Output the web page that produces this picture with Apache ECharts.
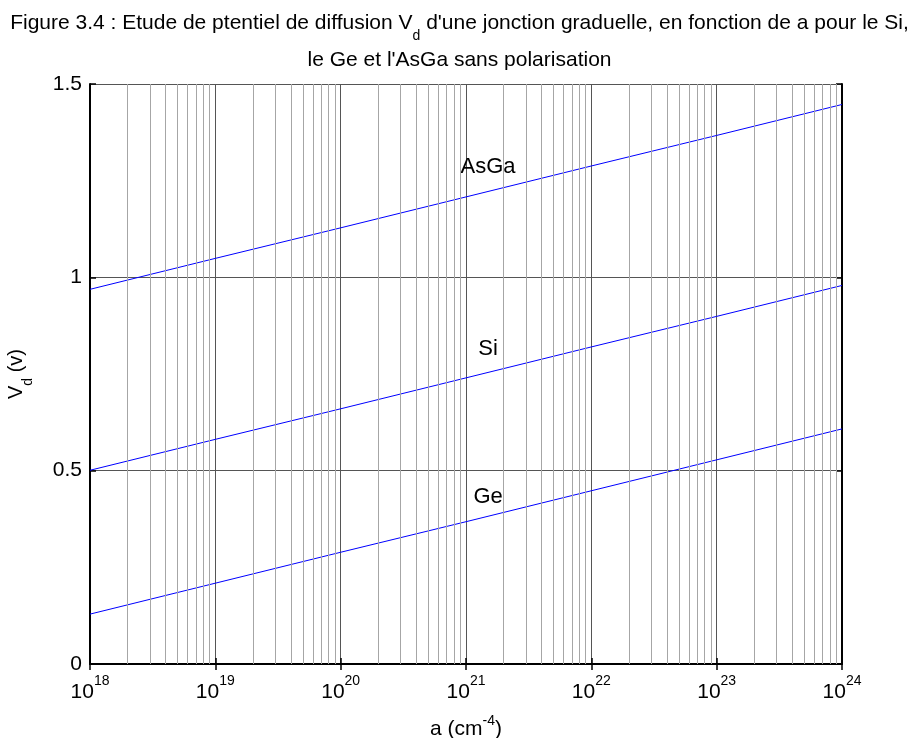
<!DOCTYPE html>
<html><head><meta charset="utf-8">
<script src="https://cdn.jsdelivr.net/npm/echarts@6/dist/echarts.min.js"></script>
<style>html,body{margin:0;padding:0;background:#fff}#c{width:919px;height:738px}</style>
</head><body><div id="c"></div>
<script>
// ---- data ----
const decades = [1e18, 1e19, 1e20, 1e21, 1e22, 1e23, 1e24];
const exponents = [18, 19, 20, 21, 22, 23, 24];
const asgaValues = [0.969, 1.049, 1.128, 1.208, 1.288, 1.367, 1.447];
const siValues   = [0.501, 0.581, 0.660, 0.740, 0.820, 0.899, 0.979];
const geValues   = [0.129, 0.209, 0.289, 0.368, 0.448, 0.528, 0.608];
const yTicks = [0, 0.5, 1, 1.5];
const yTickLabels = ['0', '0.5', '1', '1.5'];
const minorMultipliers = [2, 3, 4, 5, 6, 7, 8, 9];
const labelNames = ['AsGa', 'Si', 'Ge'];
const labelX = [1.5e21, 1.5e21, 1.5e21];
const labelY = [1.286, 0.815, 0.432];

const FONT = 'Liberation Sans, Arial, sans-serif';
const minorPositions = [];
decades.slice(0, -1).forEach(d => minorMultipliers.forEach(m => minorPositions.push(d * m)));
const expOf = {};
decades.forEach((d, i) => { expOf[Math.round(Math.log10(d))] = exponents[i]; });

function pairs(vals) { return decades.map((d, i) => [d, vals[i]]); }

const chart = echarts.init(document.getElementById('c'), null, {renderer: 'canvas'});
const lineColor = '#0000ff';
const baseX = {
  type: 'log', logBase: 10, min: decades[0], max: decades[decades.length - 1],
  gridIndex: 0
};
chart.setOption({
  animation: false,
  backgroundColor: '#fff',
  title: [
    {
      text: '{m|Figure 3.4 : Etude de ptentiel de diffusion V}{sub|d}{m| d\'une jonction graduelle, en fonction de a pour le Si,}',
      left: 'center', top: 8,
      textStyle: {
        fontFamily: FONT, fontSize: 21, fontWeight: 'normal', color: '#000',
        rich: {
          m: { fontFamily: FONT, fontSize: 21, color: '#000', verticalAlign: 'top' },
          sub: { fontFamily: FONT, fontSize: 14, padding: [16, 0, 0, 0], color: '#000', verticalAlign: 'top' }
        }
      }
    },
    {
      text: 'le Ge et l\'AsGa sans polarisation',
      left: 'center', top: 45,
      textStyle: { fontFamily: FONT, fontSize: 21, fontWeight: 'normal', color: '#000' }
    }
  ],
  grid: { left: 90, right: 77, top: 84, bottom: 74, containLabel: false, outerBoundsMode: 'none' },
  xAxis: [
    Object.assign({}, baseX, {
      position: 'bottom',
      name: '{m|a (cm}{sup|-4}{m|)}',
      nameLocation: 'middle', nameGap: 50,
      nameTextStyle: {
        fontFamily: FONT, fontSize: 21, color: '#000',
        rich: {
          m: { fontFamily: FONT, fontSize: 21, color: '#000', verticalAlign: 'bottom' },
          sup: { fontFamily: FONT, fontSize: 14, padding: [0, 0, 11.5, 0], color: '#000', verticalAlign: 'bottom' }
        }
      },
      axisLine: { show: true, lineStyle: { color: '#000', width: 2 } },
      axisTick: { show: true, inside: true, length: 6, lineStyle: { color: '#000', width: 1.5 } },
      axisLabel: {
        show: true, margin: 10,
        formatter: v => '{b|10}{s|' + expOf[Math.round(Math.log10(v))] + '}',
        rich: {
          b: { fontFamily: FONT, fontSize: 21, color: '#000', verticalAlign: 'bottom' },
          s: { fontFamily: FONT, fontSize: 14, color: '#000', padding: [0, 0, 15, 0], verticalAlign: 'bottom' }
        }
      },
      splitLine: { show: true, lineStyle: { color: '#555', width: 1 } }
    }),
    Object.assign({}, baseX, {
      position: 'top',
      axisLine: { show: true, lineStyle: { color: '#000', width: 2 } },
      axisTick: { show: true, inside: true, length: 6, lineStyle: { color: '#000', width: 1.5 } },
      axisLabel: { show: false },
      splitLine: { show: false }
    }),
    Object.assign({}, baseX, {
      position: 'bottom',
      axisLine: { show: false },
      axisTick: { show: true, inside: true, length: 4, customValues: minorPositions, lineStyle: { color: '#000', width: 1 } },
      axisLabel: { show: false },
      splitLine: { show: false }
    }),
    Object.assign({}, baseX, {
      position: 'top',
      axisLine: { show: false },
      axisTick: { show: true, inside: true, length: 4, customValues: minorPositions, lineStyle: { color: '#000', width: 1 } },
      axisLabel: { show: false },
      splitLine: { show: false }
    })
  ],
  yAxis: [
    {
      type: 'value', min: yTicks[0], max: yTicks[yTicks.length - 1], interval: 0.5,
      position: 'left',
      name: '{m|V}{sub|d}{m| (v)}',
      nameLocation: 'middle', nameGap: 55, nameRotate: 90,
      nameTextStyle: {
        fontFamily: FONT, fontSize: 20, color: '#000',
        rich: {
          m: { fontFamily: FONT, fontSize: 20, color: '#000', verticalAlign: 'top' },
          sub: { fontFamily: FONT, fontSize: 14, padding: [14.5, 0, 0, 0], color: '#000', verticalAlign: 'top' }
        }
      },
      axisLine: { show: true, lineStyle: { color: '#000', width: 2 } },
      axisTick: { show: true, inside: true, length: 6, lineStyle: { color: '#000', width: 1.5 } },
      axisLabel: {
        show: true, margin: 8, fontFamily: FONT, fontSize: 21, color: '#000',
        formatter: v => yTickLabels[yTicks.indexOf(v)]
      },
      splitLine: { show: true, lineStyle: { color: '#555', width: 1 } }
    },
    {
      type: 'value', min: yTicks[0], max: yTicks[yTicks.length - 1], interval: 0.5,
      position: 'right',
      axisLine: { show: true, lineStyle: { color: '#000', width: 2 } },
      axisTick: { show: true, inside: true, length: 6, lineStyle: { color: '#000', width: 1.5 } },
      axisLabel: { show: false },
      splitLine: { show: false }
    }
  ],
  series: [
    {
      name: 'minorGrid', type: 'line', data: [], z: 1, silent: true,
      markLine: {
        silent: true, symbol: ['none', 'none'], label: { show: false },
        lineStyle: { color: '#a6a6a6', width: 1, type: 'solid' },
        emphasis: { disabled: true },
        data: minorPositions.map(v => ({ xAxis: v }))
      }
    },
    { name: 'AsGa', type: 'line', data: pairs(asgaValues), showSymbol: false, z: 3,
      lineStyle: { color: lineColor, width: 1 }, itemStyle: { color: lineColor } },
    { name: 'Si', type: 'line', data: pairs(siValues), showSymbol: false, z: 3,
      lineStyle: { color: lineColor, width: 1 }, itemStyle: { color: lineColor } },
    { name: 'Ge', type: 'line', data: pairs(geValues), showSymbol: false, z: 3,
      lineStyle: { color: lineColor, width: 1 }, itemStyle: { color: lineColor } },
    {
      name: 'labels', type: 'scatter', symbolSize: 0, z: 4, silent: true,
      itemStyle: { color: '#000', opacity: 1 },
      data: labelNames.map((n, i) => ({ name: n, value: [labelX[i], labelY[i]] })),
      label: { show: true, position: 'inside', formatter: p => p.name,
        fontFamily: FONT, fontSize: 22, color: '#000', opacity: 1,
        textBorderWidth: 0, textBorderColor: 'transparent', textShadowBlur: 0 }
    }
  ]
});
</script></body></html>
